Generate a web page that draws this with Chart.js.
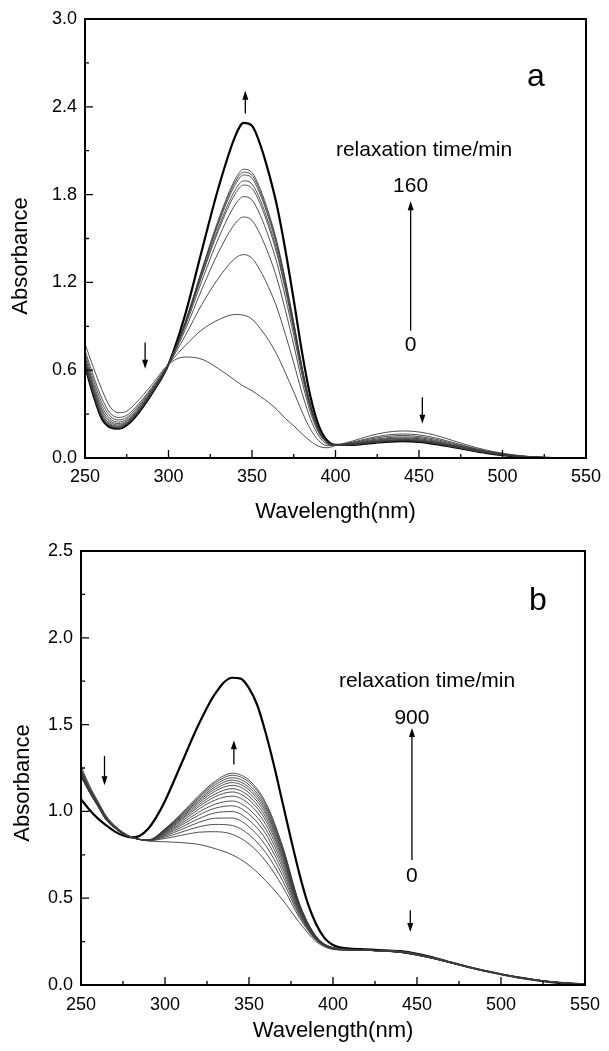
<!DOCTYPE html>
<html>
<head>
<meta charset="utf-8">
<script src="https://cdn.jsdelivr.net/npm/chart.js@4.4.1/dist/chart.umd.min.js"></script>
<style>
  html, body { margin: 0; padding: 0; background: #fff; }
  #wrapA { position: absolute; left: 0; top: 0; width: 609px; height: 530px; }
  #wrapB { position: absolute; left: 0; top: 530px; width: 609px; height: 521px; }
</style>
</head>
<body>
<div id="wrapA"><canvas id="chartA" width="609" height="530"></canvas></div>
<div id="wrapB"><canvas id="chartB" width="609" height="521"></canvas></div>
<script>
// ---- panel a: wavelengths and spectra (0 -> 160 min, last one is the bold trace)
const wlA = [250,255,260,265,270,275,280,290,300,310,320,330,340,345,350,355,360,365,370,375,380,385,390,395,400,410,420,430,440,450,460,470,480,490,500,510,520,530];

const a0 = [0.78,0.62,0.47,0.35,0.31,0.32,0.37,0.5, 0.64,0.69,0.675,0.61,0.53,0.49,0.46,0.42,0.38,0.33,0.27,0.22,0.165,0.115,0.08,0.07,0.085, 0.115,0.15,0.175,0.185,0.178,0.155,0.12,0.085,0.055,0.033,0.017,0.007,0];
const a1 = [0.735,0.563,0.41,0.308,0.277,0.292,0.343,0.482, 0.64,0.768,0.876,0.945,0.981,0.976,0.949,0.884,0.804,0.705,0.581,0.452,0.315,0.197,0.118,0.084,0.087, 0.108,0.135,0.156,0.164,0.158,0.137,0.107,0.076,0.049,0.029,0.015,0.006,0];
const a2 = [0.713,0.535,0.38,0.287,0.26,0.277,0.33,0.473, 0.64,0.835,1.05,1.23,1.365,1.39,1.365,1.28,1.165,1.025,0.845,0.65,0.443,0.268,0.15,0.095,0.088, 0.104,0.128,0.146,0.154,0.147,0.128,0.1,0.072,0.046,0.027,0.014,0.006,0];
const a3 = [0.693,0.51,0.354,0.269,0.246,0.265,0.318,0.465, 0.64,0.876,1.154,1.407,1.604,1.647,1.624,1.526,1.39,1.224,1.009,0.773,0.522,0.311,0.17,0.102,0.088, 0.1,0.121,0.137,0.144,0.139,0.12,0.094,0.068,0.043,0.025,0.013,0.005,0];
const a4 = [0.678,0.491,0.334,0.255,0.235,0.255,0.309,0.459, 0.64,0.899,1.211,1.503,1.732,1.786,1.763,1.658,1.51,1.331,1.098,0.839,0.565,0.335,0.181,0.106,0.089, 0.098,0.116,0.131,0.137,0.132,0.114,0.089,0.065,0.041,0.024,0.012,0.005,0];
const a5 = [0.666,0.476,0.318,0.244,0.226,0.248,0.302,0.454, 0.64,0.912,1.244,1.557,1.806,1.865,1.843,1.734,1.579,1.392,1.149,0.877,0.589,0.348,0.187,0.108,0.089, 0.096,0.112,0.126,0.132,0.126,0.109,0.086,0.062,0.04,0.023,0.012,0.005,0];
const a6 = [0.655,0.462,0.304,0.234,0.219,0.241,0.295,0.45, 0.64,0.916,1.256,1.577,1.833,1.894,1.872,1.762,1.605,1.414,1.167,0.891,0.598,0.353,0.189,0.109,0.089, 0.094,0.109,0.121,0.127,0.122,0.105,0.083,0.06,0.038,0.022,0.011,0.005,0];
const a7 = [0.648,0.453,0.294,0.227,0.213,0.236,0.291,0.447, 0.64,0.923,1.272,1.604,1.869,1.934,1.912,1.799,1.639,1.445,1.192,0.91,0.61,0.36,0.192,0.11,0.089, 0.093,0.106,0.118,0.123,0.118,0.102,0.08,0.059,0.037,0.022,0.011,0.004,0];
const a8 = [0.642,0.445,0.286,0.221,0.209,0.233,0.287,0.445, 0.64,0.926,1.281,1.618,1.888,1.953,1.932,1.818,1.656,1.46,1.205,0.919,0.616,0.363,0.194,0.111,0.089, 0.092,0.104,0.115,0.121,0.115,0.1,0.079,0.057,0.037,0.021,0.011,0.004,0];
const a9 = [0.636,0.438,0.278,0.216,0.204,0.229,0.284,0.442, 0.64,0.929,1.289,1.632,1.906,1.973,1.951,1.837,1.674,1.475,1.218,0.929,0.622,0.366,0.195,0.111,0.089, 0.091,0.102,0.112,0.118,0.113,0.097,0.077,0.056,0.036,0.021,0.01,0.004,0];
const a10 = [0.63,0.43,0.27,0.21,0.2,0.225,0.28,0.44, 0.64,0.98,1.42,1.85,2.2,2.29,2.27,2.14,1.95,1.72,1.42,1.08,0.72,0.42,0.22,0.12,0.09, 0.09,0.1,0.11,0.115,0.11,0.095,0.075,0.055,0.035,0.02,0.01,0.004,0];

// ---- panel b: wavelengths and spectra (0 -> 900 min, bold trace is the last)
const wlB = [250,255,260,265,270,275,280,290,300,310,320,330,340,350,360,370,380,390,400,410,420,430,440,450,460,470,480,490,500,510,520,530,540,550];
const wlBThick = [250,255,260,265,270,275,280,285,290,295,300,310,320,330,340,345,350,355,360,365,370,375,380,385,390,395,400,405,410,420,430,440,450,460,470,480,490,500,510,520,530,540,550];

const b0 = [1.26,1.15,1.06,0.975,0.92,0.88,0.853, 0.83,0.825,0.82,0.81,0.785,0.75,0.69,0.6,0.49,0.36,0.25,0.205, 0.2,0.2,0.2,0.195,0.18,0.158,0.132,0.106,0.083,0.063,0.045,0.03,0.018,0.01,0.005];
const b1 = [1.245,1.14,1.052,0.969,0.916,0.877,0.852, 0.831,0.844,0.863,0.88,0.883,0.868,0.813,0.713,0.568,0.388,0.258,0.208, 0.201,0.2,0.199,0.193,0.178,0.157,0.131,0.106,0.083,0.063,0.045,0.03,0.018,0.01,0.005];
const b2 = [1.238,1.136,1.049,0.966,0.915,0.876,0.852, 0.832,0.852,0.881,0.911,0.925,0.919,0.866,0.762,0.602,0.4,0.261,0.209, 0.202,0.2,0.198,0.192,0.177,0.156,0.131,0.106,0.083,0.063,0.045,0.03,0.018,0.01,0.005];
const b3 = [1.233,1.132,1.047,0.964,0.913,0.876,0.852, 0.832,0.859,0.897,0.936,0.961,0.962,0.911,0.803,0.63,0.41,0.264,0.21, 0.202,0.2,0.198,0.192,0.176,0.155,0.13,0.105,0.083,0.063,0.045,0.03,0.018,0.01,0.005];
const b4 = [1.228,1.129,1.044,0.962,0.912,0.875,0.851, 0.833,0.865,0.91,0.958,0.992,0.999,0.95,0.839,0.654,0.418,0.266,0.21, 0.203,0.2,0.197,0.191,0.176,0.155,0.13,0.105,0.083,0.063,0.045,0.03,0.018,0.01,0.005];
const b5 = [1.224,1.126,1.042,0.96,0.911,0.874,0.851, 0.833,0.87,0.922,0.978,1.019,1.032,0.984,0.87,0.676,0.426,0.268,0.211, 0.203,0.2,0.197,0.191,0.175,0.154,0.13,0.105,0.082,0.062,0.045,0.03,0.018,0.01,0.005];
const b6 = [1.22,1.124,1.04,0.959,0.91,0.873,0.851, 0.833,0.875,0.932,0.995,1.042,1.06,1.013,0.897,0.695,0.433,0.27,0.212, 0.203,0.2,0.197,0.19,0.175,0.154,0.129,0.105,0.082,0.062,0.045,0.03,0.018,0.01,0.005];
const b7 = [1.217,1.121,1.038,0.957,0.909,0.873,0.851, 0.834,0.879,0.942,1.012,1.066,1.088,1.043,0.924,0.713,0.439,0.272,0.212, 0.204,0.2,0.196,0.19,0.174,0.154,0.129,0.105,0.082,0.062,0.045,0.03,0.018,0.01,0.005];
const b8 = [1.214,1.119,1.037,0.956,0.908,0.872,0.851, 0.834,0.883,0.951,1.026,1.085,1.112,1.067,0.947,0.729,0.445,0.273,0.213, 0.204,0.2,0.196,0.19,0.174,0.153,0.129,0.104,0.082,0.062,0.044,0.03,0.018,0.01,0.005];
const b9 = [1.211,1.118,1.036,0.955,0.908,0.872,0.851, 0.834,0.886,0.958,1.037,1.101,1.131,1.087,0.965,0.741,0.449,0.274,0.213, 0.204,0.2,0.196,0.189,0.174,0.153,0.129,0.104,0.082,0.062,0.044,0.03,0.018,0.01,0.005];
const b10 = [1.209,1.116,1.034,0.954,0.907,0.872,0.85, 0.834,0.889,0.965,1.048,1.117,1.15,1.107,0.983,0.754,0.454,0.276,0.214, 0.204,0.2,0.196,0.189,0.173,0.153,0.128,0.104,0.082,0.062,0.044,0.03,0.018,0.01,0.005];
const b11 = [1.207,1.115,1.033,0.953,0.907,0.871,0.85, 0.834,0.891,0.97,1.058,1.13,1.166,1.124,0.998,0.764,0.457,0.277,0.214, 0.204,0.2,0.196,0.189,0.173,0.153,0.128,0.104,0.082,0.062,0.044,0.03,0.018,0.01,0.005];
const b12 = [1.205,1.113,1.033,0.952,0.906,0.871,0.85, 0.835,0.894,0.976,1.066,1.142,1.18,1.138,1.012,0.774,0.461,0.277,0.214, 0.205,0.2,0.195,0.189,0.173,0.152,0.128,0.104,0.082,0.062,0.044,0.03,0.018,0.01,0.005];
const b13 = [1.203,1.112,1.032,0.951,0.906,0.871,0.85, 0.835,0.896,0.981,1.075,1.154,1.194,1.153,1.025,0.783,0.464,0.278,0.214, 0.205,0.2,0.195,0.188,0.172,0.152,0.128,0.104,0.082,0.062,0.044,0.03,0.018,0.01,0.005];
const b14 = [1.202,1.111,1.031,0.951,0.905,0.87,0.85, 0.835,0.898,0.986,1.083,1.165,1.208,1.168,1.039,0.792,0.467,0.279,0.215, 0.205,0.2,0.195,0.188,0.172,0.152,0.128,0.104,0.082,0.062,0.044,0.03,0.018,0.01,0.005];
const b15 = [1.2,1.11,1.03,0.95,0.905,0.87,0.85, 0.835,0.9,0.99,1.09,1.175,1.22,1.18,1.05,0.8,0.47,0.28,0.215, 0.205,0.2,0.195,0.188,0.172,0.152,0.128,0.104,0.082,0.062,0.044,0.03,0.018,0.01,0.005];
const bThick = [1.07,1.01,0.96,0.92,0.885,0.862,0.85,0.86,0.9,0.97,1.06,1.28,1.5,1.68,1.77,1.765,1.71,1.61,1.45,1.26,1.05,0.84,0.64,0.47,0.35,0.27,0.23,0.215,0.21,0.205,0.2,0.195,0.18,0.157,0.131,0.105,0.082,0.062,0.044,0.029,0.017,0.009,0.004];

const FONT = '"Liberation Sans", Arial, Helvetica, sans-serif';

function trace(wl, vals, bold) {
  return {
    data: vals.map((v, i) => ({ x: wl[i], y: v })),
    borderColor: bold ? '#000' : '#3c3c3c',
    borderWidth: bold ? 2.2 : 0.9,
    pointRadius: 0,
    cubicInterpolationMode: 'monotone',
    fill: false
  };
}

// frame, inward ticks, arrows and the labels inside the plot
const decor = {
  id: 'decor',
  afterDatasetsDraw(chart, args, o) {
    const { ctx, chartArea: ca, scales: { x, y } } = chart;
    ctx.save();
    ctx.strokeStyle = '#000';
    ctx.fillStyle = '#000';

    ctx.lineWidth = 1.3;
    ctx.beginPath();
    const xt = x.ticks.map(t => t.value);
    xt.forEach((v, i) => {
      const px = x.getPixelForValue(v);
      ctx.moveTo(px, ca.bottom); ctx.lineTo(px, ca.bottom - 8);
      if (i < xt.length - 1) {
        const mx = x.getPixelForValue((v + xt[i + 1]) / 2);
        ctx.moveTo(mx, ca.bottom); ctx.lineTo(mx, ca.bottom - 4);
      }
    });
    const yt = y.ticks.map(t => t.value);
    yt.forEach((v, i) => {
      const py = y.getPixelForValue(v);
      ctx.moveTo(ca.left, py); ctx.lineTo(ca.left + 8, py);
      if (i < yt.length - 1) {
        const my = y.getPixelForValue((v + yt[i + 1]) / 2);
        ctx.moveTo(ca.left, my); ctx.lineTo(ca.left + 4, my);
      }
    });
    ctx.stroke();

    ctx.lineWidth = 2;
    ctx.strokeRect(ca.left, ca.top, ca.right - ca.left, ca.bottom - ca.top);

    ctx.textAlign = 'center';
    ctx.textBaseline = 'middle';
    o.texts.forEach(t => {
      ctx.font = t.size + 'px ' + FONT;
      ctx.fillText(t.text, x.getPixelForValue(t.x), y.getPixelForValue(t.y));
    });

    ctx.lineWidth = 1.3;
    o.arrows.forEach(a => {
      const px = x.getPixelForValue(a.x);
      const p0 = y.getPixelForValue(a.from), p1 = y.getPixelForValue(a.to);
      const d = p1 < p0 ? 1 : -1;
      ctx.beginPath();
      ctx.moveTo(px, p0); ctx.lineTo(px, p1 + d * 6);
      ctx.stroke();
      ctx.beginPath();
      ctx.moveTo(px, p1);
      ctx.lineTo(px - 3, p1 + d * 9);
      ctx.lineTo(px + 3, p1 + d * 9);
      ctx.closePath();
      ctx.fill();
    });

    ctx.font = '22px ' + FONT;
    ctx.translate(o.yTitle.x, o.yTitle.y);
    ctx.rotate(-Math.PI / 2);
    ctx.fillText('Absorbance', 0, 0);
    ctx.restore();
  }
};

function makeChart(id, datasets, c) {
  return new Chart(document.getElementById(id), {
    type: 'line',
    data: { datasets: datasets },
    plugins: [decor],
    options: {
      responsive: false,
      animation: false,
      events: [],
      layout: { padding: { left: 0, right: c.right, top: c.top, bottom: 0 } },
      plugins: {
        legend: { display: false },
        tooltip: { enabled: false },
        decor: { texts: c.texts, arrows: c.arrows, yTitle: c.yTitle }
      },
      scales: {
        x: {
          type: 'linear', min: 250, max: 550,
          grid: { display: false, drawTicks: false },
          border: { display: false },
          ticks: { stepSize: 50, maxRotation: 0, padding: c.xPad, color: '#000', font: { family: FONT, size: 18 } },
          title: { display: true, text: 'Wavelength(nm)', color: '#000', font: { family: FONT, size: 22 }, padding: { top: 0, bottom: c.titlePad } },
          afterFit: s => { s.height = c.xH; }
        },
        y: {
          type: 'linear', min: 0, max: c.yMax,
          grid: { display: false, drawTicks: false },
          border: { display: false },
          ticks: { stepSize: c.yStep, padding: 8, color: '#000', font: { family: FONT, size: 18 }, callback: v => v.toFixed(1) },
          afterFit: s => { s.width = c.yW; }
        }
      }
    }
  });
}

const setA = [a0, a1, a2, a3, a4, a5, a6, a7, a8, a9];
makeChart('chartA', setA.map(v => trace(wlA, v, false)).concat([trace(wlA, a10, true)]), {
  right: 17, top: 19, yW: 85, xH: 72, xPad: 8, titlePad: 5, yMax: 3, yStep: 0.6,
  yTitle: { x: 21, y: 256 },
  texts: [
    { text: 'a', x: 520, y: 2.6, size: 32 },
    { text: 'relaxation time/min', x: 453, y: 2.1, size: 21 },
    { text: '160', x: 445, y: 1.86, size: 21 },
    { text: '0', x: 445, y: 0.77, size: 21 }
  ],
  arrows: [
    { x: 346, from: 2.355, to: 2.51 },
    { x: 445, from: 0.87, to: 1.755 },
    { x: 286, from: 0.79, to: 0.61 },
    { x: 452, from: 0.415, to: 0.234 }
  ]
});

const setB = [b0, b1, b2, b3, b4, b5, b6, b7, b8, b9, b10, b11, b12, b13, b14, b15];
makeChart('chartB', setB.map(v => trace(wlB, v, false)).concat([trace(wlBThick, bThick, true)]), {
  right: 18, top: 21, yW: 81, xH: 66, xPad: 9, titlePad: 7, yMax: 2.5, yStep: 0.5,
  yTitle: { x: 23, y: 253 },
  texts: [
    { text: 'b', x: 522, y: 2.21, size: 32 },
    { text: 'relaxation time/min', x: 456, y: 1.75, size: 21 },
    { text: '900', x: 447, y: 1.535, size: 21 },
    { text: '0', x: 447, y: 0.625, size: 21 }
  ],
  arrows: [
    { x: 341, from: 1.27, to: 1.41 },
    { x: 447, from: 0.72, to: 1.48 },
    { x: 264, from: 1.32, to: 1.15 },
    { x: 446, from: 0.43, to: 0.306 }
  ]
});
</script>
</body>
</html>
